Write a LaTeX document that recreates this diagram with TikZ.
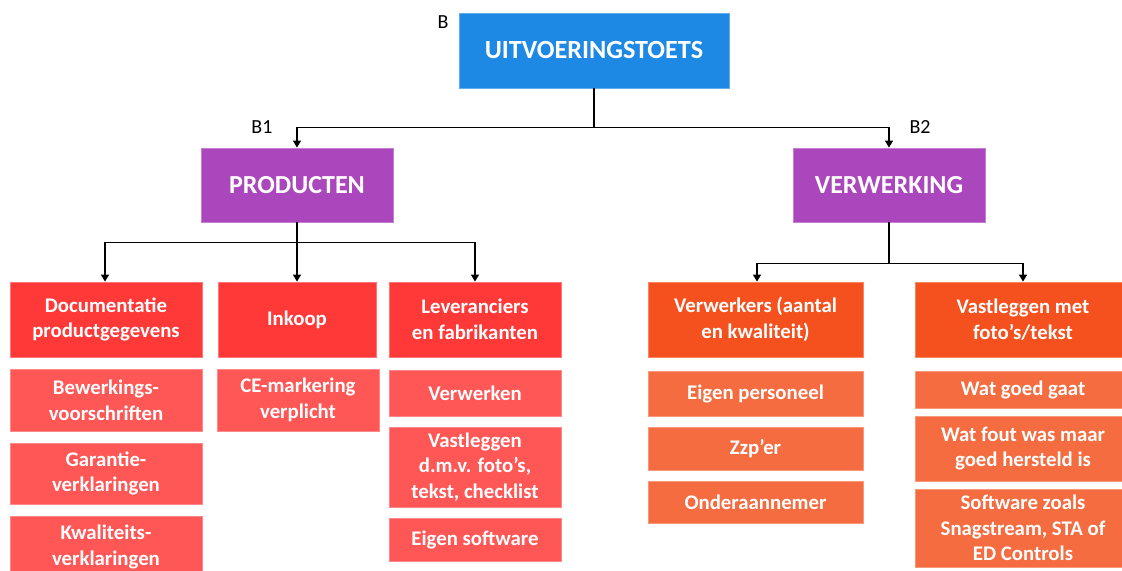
\documentclass[tikz,border=0pt]{standalone}
\usepackage{fontspec}
\setmainfont{Carlito}
\usetikzlibrary{arrows.meta, positioning, calc}
\definecolor{blauw}{RGB}{30,136,229}
\definecolor{paars}{RGB}{171,71,188}
\definecolor{rood}{RGB}{255,56,56}
\definecolor{roodlicht}{RGB}{255,86,86}
\definecolor{oranje}{RGB}{244,81,30}
\definecolor{oranjelicht}{RGB}{244,108,64}
\tikzset{
  blok/.style = {align=center, inner sep=0pt, text centered, white,
    font=\fontsize{10.4}{12.8}\selectfont\bfseries},
  blok_b/.style = {blok, fill=blauw, draw=blauw!70!white, line width=0.4pt,
    font=\fontsize{13.1}{15}\selectfont\bfseries},% hoofdblok
  blok_p/.style = {blok, fill=paars, draw=paars!70!white, line width=0.4pt,
    font=\fontsize{13}{15}\selectfont\bfseries},% B1, B2
  blok_r/.style = {blok, fill=rood, draw=rood!70!white, line width=0.4pt},% producten, kop
  blok_rl/.style = {blok, fill=roodlicht, draw=roodlicht!70!white, line width=0.4pt},% producten, punt
  blok_o/.style = {blok, fill=oranje, draw=oranje!70!white, line width=0.4pt},% verwerking, kop
  blok_ol/.style = {blok, fill=oranjelicht, draw=oranjelicht!70!white, line width=0.4pt},% verwerking, punt
  code/.style = {font=\fontsize{10}{12}\selectfont, black}% B, B1, B2
}

\begin{document}
\begin{tikzpicture}[->,>={Triangle[length=3.5pt,width=4pt]}, line width=0.65pt,
  x=0.5pt, y=-0.5pt]
\useasboundingbox (0,0) rectangle (1122,571);
\clip (0,0) rectangle (1122,571);

\node [blok_b, minimum width=135pt, minimum height=37.5pt] (uitv) at (594,50.5) {UITVOERINGSTOETS};
\node [code] (lb) at (443,22) {B};

\node [blok_p, minimum width=96pt, minimum height=37pt] (prod) at (297,185) {PRODUCTEN};
\node [blok_p, minimum width=96pt, minimum height=37pt] (verw) at (889,185) {VERWERKING};
\node [code] (lb1) at (262,127) {B1};
\node [code] (lb2) at (920,127) {B2};

% producten
\node [blok_r, minimum width=96pt, minimum height=37.5pt] (doc) at (106,319.5) {Documentatie\\productgegevens};
\node [blok_r, minimum width=79pt, minimum height=37.5pt] (inkoop) at (297,319.5) {Inkoop};
\node [blok_r, minimum width=86pt, minimum height=37.5pt] (lev) at (475,319.5) {Leveranciers\\en fabrikanten};

\node [blok_rl, minimum width=96pt, minimum height=31pt] (bew) at (106,400) {Bewerkings-\\voorschriften};
\node [blok_rl, minimum width=96pt, minimum height=30.5pt] (gar) at (106,473.5) {Garantie-\\verklaringen};
\node [blok_rl, minimum width=96pt, minimum height=31pt] (kwal) at (106,547) {Kwaliteits-\\verklaringen};
\node [blok_rl, minimum width=81pt, minimum height=31pt] (ce) at (298,400) {CE-markering\\verplicht};
\node [blok_rl, minimum width=86pt, minimum height=23pt] (verwerken) at (475,393) {Verwerken};
\node [blok_rl, minimum width=86pt, minimum height=40pt] (vdmv) at (475,467) {Vastleggen\\d.m.v. foto’s,\\tekst, checklist};
\node [blok_rl, minimum width=86pt, minimum height=21.5pt] (eigsw) at (475,539.5) {Eigen software};

% verwerking
\node [blok_o, minimum width=107.5pt, minimum height=37.5pt] (verwk) at (755.5,319.5) {Verwerkers (aantal\\en kwaliteit)};
\node [blok_o, minimum width=107.5pt, minimum height=37.5pt] (vastl) at (1023,319.5) {Vastleggen met\\foto’s/tekst};

\node [blok_ol, minimum width=107.5pt, minimum height=22.5pt] (eigpers) at (755.5,393.5) {Eigen personeel};
\node [blok_ol, minimum width=107.5pt, minimum height=21.5pt] (zzp) at (755.5,448.5) {Zzp’er};
\node [blok_ol, minimum width=107.5pt, minimum height=21pt] (onder) at (755.5,502) {Onderaannemer};
\node [blok_ol, minimum width=107.5pt, minimum height=18.5pt] (goed) at (1023,389.5) {Wat goed gaat};
\node [blok_ol, minimum width=107.5pt, minimum height=32.5pt] (fout) at (1023,448.5) {Wat fout was maar\\goed hersteld is};
\node [blok_ol, minimum width=107.5pt, minimum height=39pt] (softw) at (1023,528) {Software zoals\\Snagstream, STA of\\ED Controls};

% verbindingen
\draw (uitv.south) -- ++(0,39) -| (prod);
\draw (uitv.south) -- ++(0,39) -| (verw);
\draw (prod.south) -- ++(0,20) -| ($(doc.north)+(-1,0)$);
\draw (prod.south) -- (inkoop.north);
\draw (prod.south) -- ++(0,20) -| (lev);
\draw (verw.south) -- ++(0,41) -| ($(verwk.north)+(1.5,0)$);
\draw (verw.south) -- ++(0,41) -| (vastl);
\end{tikzpicture}
\end{document}
